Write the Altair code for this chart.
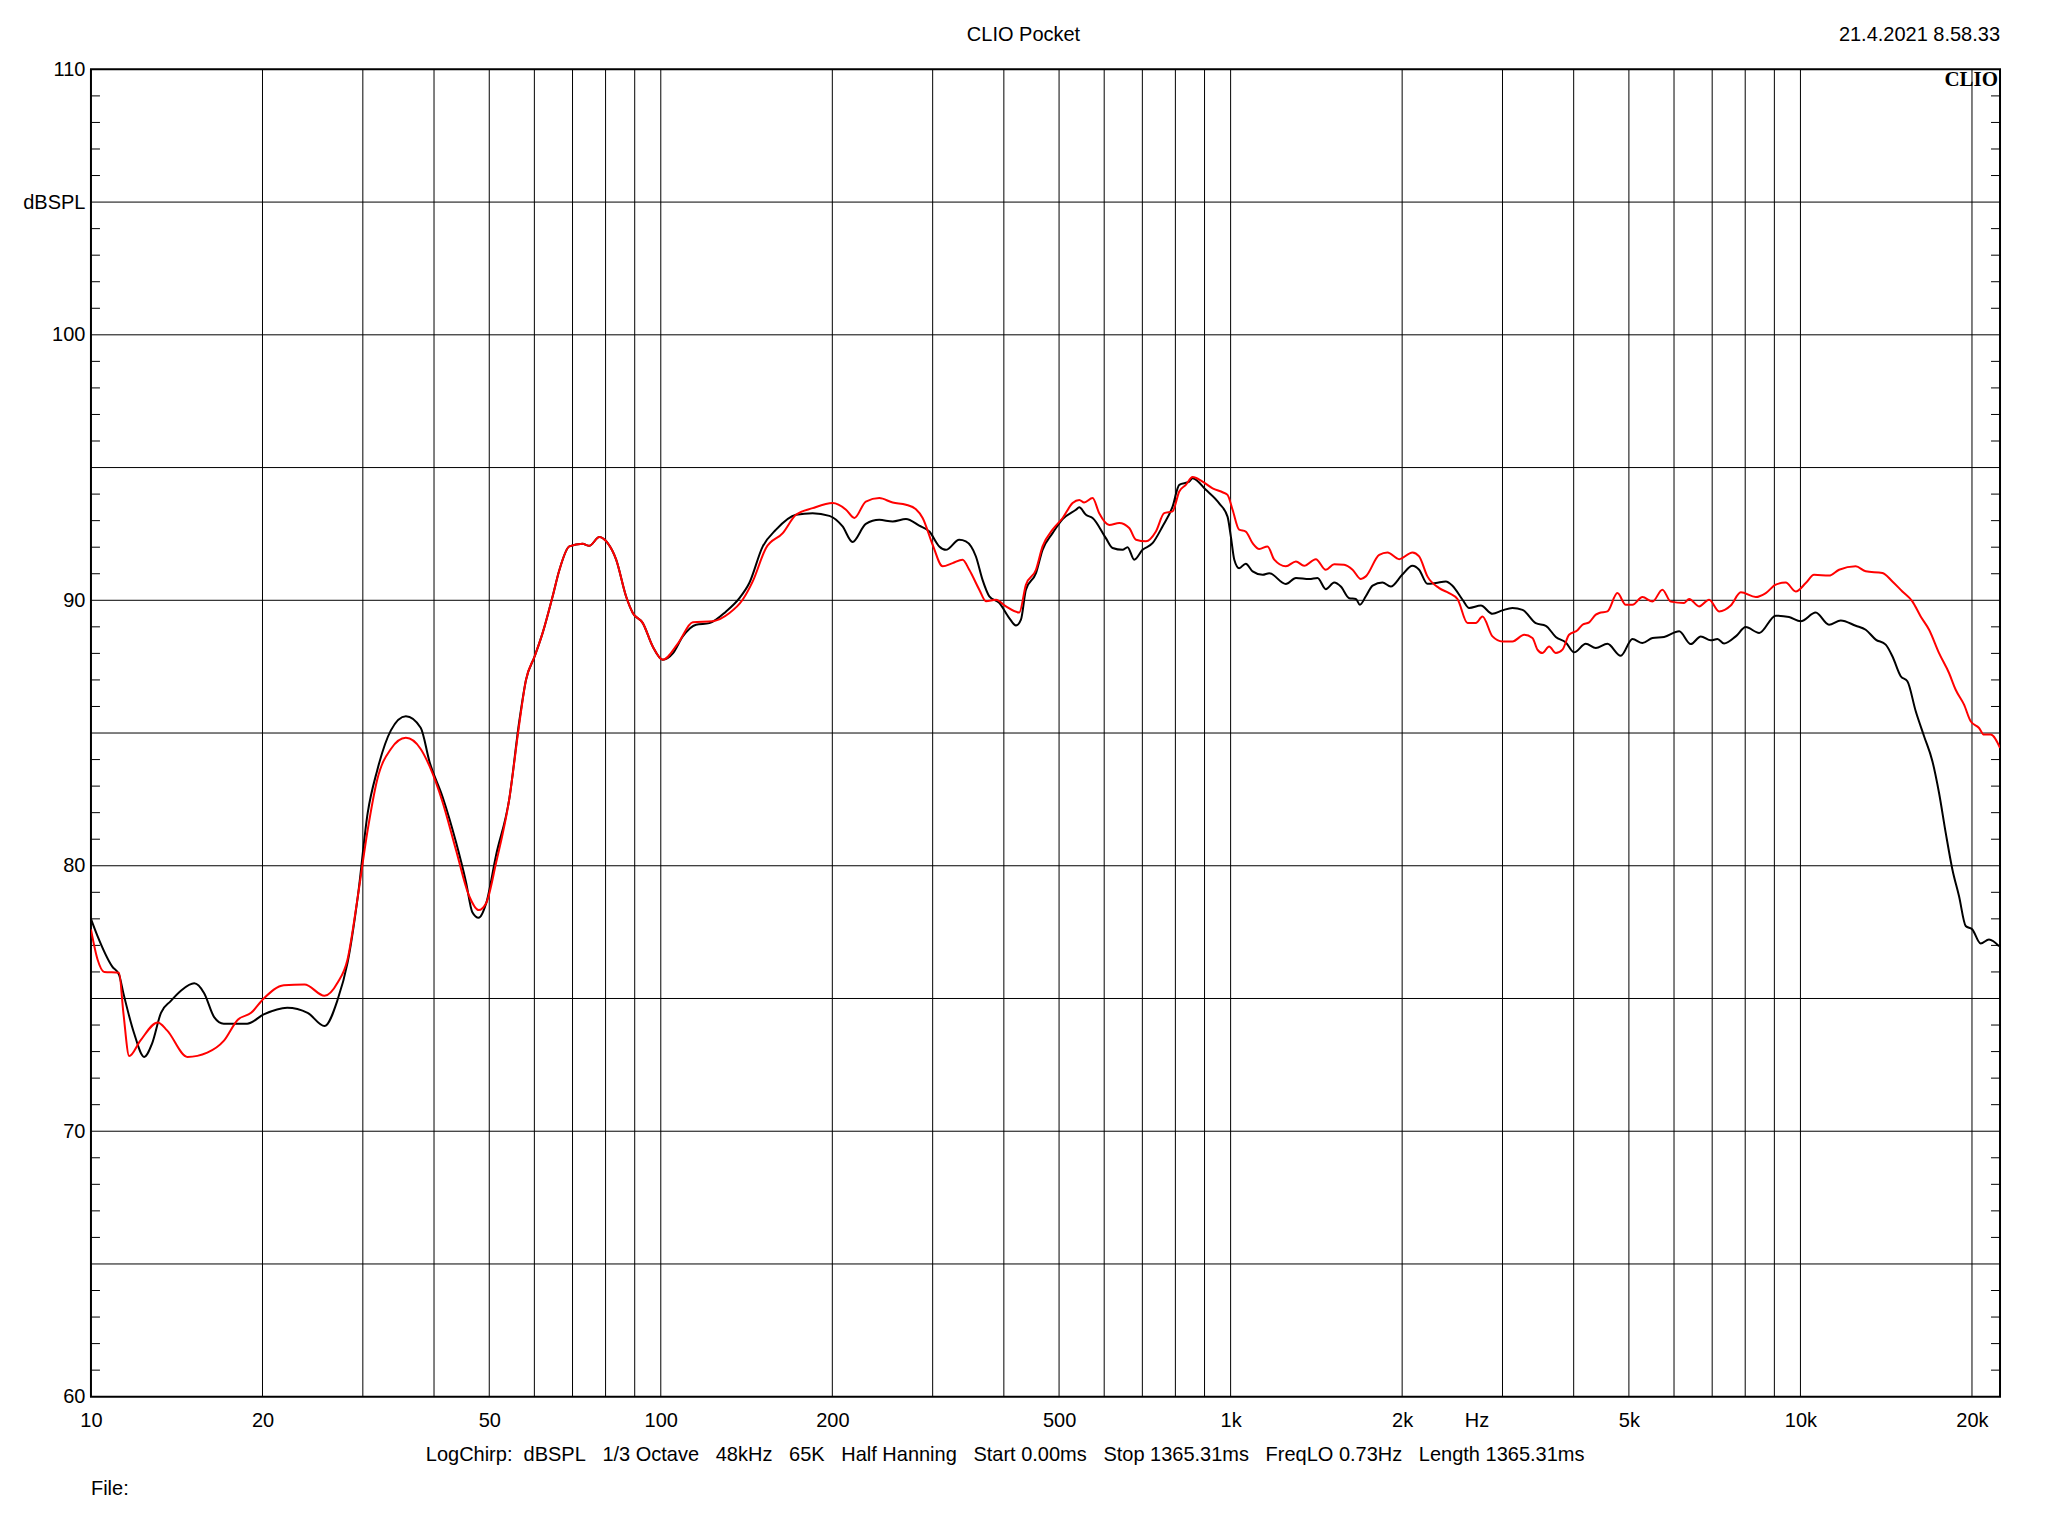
import altair as alt
import pandas as pd

# ---- data ----
black_freq = [10, 10.27, 10.9, 11.2, 11.4, 11.9, 12.4, 12.8, 13.27, 13.8, 14.4, 15.18, 15.8, 16.45, 17.1, 18.8,
              20.1, 22.1, 24.0, 25.7, 27.1, 28.2, 29.4, 30.6, 31.8, 33.6, 35.7, 37.9, 39.3, 41.4, 43.7, 45.5,
              46.7, 47.9, 49.4, 51.4, 54.2, 56.5, 58.0, 60.1, 62.1, 64.6, 66.4, 69.1, 72.9, 74.9, 78.0, 80.7,
              83.5, 86.9, 89.3, 93.0, 96.8, 100.8, 105, 109.3, 115.3, 121.7, 130.2, 137.4, 143, 151, 159.3,
              172.7, 184.7, 197.6, 208.5, 217, 229, 241.8, 255.3, 269.3, 284.2, 296, 308.1, 316.5, 334, 343,
              357.3, 367, 377.2, 392.6, 408.8, 420.1, 428.6, 437.3, 455.4, 467.7, 487, 507.3, 535.3, 542.6,
              557.3, 572.5, 604.1, 620.6, 646.3, 659.4, 677.4, 700.6, 729.4, 759.4, 791, 812.6, 846, 857.5,
              904.8, 955, 987.6, 1001, 1015, 1035, 1063, 1093, 1138, 1169, 1250, 1302, 1374, 1421, 1469, 1520,
              1561, 1615, 1659, 1686, 1727, 1775, 1847, 1910, 2000, 2085, 2142, 2215, 2292, 2386, 2451, 2553,
              2622, 2749, 2881, 2999, 3123, 3253, 3432, 3574, 3721, 3875, 4007, 4201, 4374, 4584, 4838, 5073,
              5281, 5500, 5764, 6126, 6420, 6686, 6961, 7151, 7345, 7700, 8017, 8464, 9051, 9550, 10012,
              10637, 11225, 11769, 12503, 13018, 13556, 14112, 14500, 14997, 15405, 15935, 16480, 17044,
              17509, 17987, 18478, 18982, 19500, 20030, 20715, 21423, 22311]
black_db = [78.0, 77.35, 76.2, 75.9, 75.2, 73.7, 72.8, 73.3, 74.46, 74.9, 75.3, 75.57, 75.2, 74.3, 74.05, 74.05,
            74.4, 74.65, 74.46, 73.96, 74.96, 76.34, 78.85, 82.0, 83.6, 85.1, 85.63, 85.2, 83.9, 82.6, 80.9, 79.4,
            78.25, 78.04, 78.6, 80.4, 82.5, 85.5, 87.0, 87.9, 88.8, 90.15, 91.15, 92.03, 92.13, 92.05, 92.38, 92.15,
            91.53, 90.15, 89.52, 89.14, 88.26, 87.76, 88.0, 88.64, 89.08, 89.14, 89.58, 90.08, 90.65, 92.03, 92.66,
            93.22, 93.28, 93.18, 92.78, 92.2, 92.88, 93.03, 92.97, 93.06, 92.81, 92.59, 92.03, 91.9, 92.28, 92.22,
            91.65, 90.77, 90.15, 89.9, 89.33, 89.05, 89.27, 90.4, 91.02, 91.9, 92.53, 93.06, 93.41, 93.5,
            93.22, 93.1, 92.34, 91.97, 91.9, 92.0, 91.53, 91.9, 92.15, 92.78, 93.53, 94.35, 94.47, 94.6,
            94.16, 93.65, 93.15, 92.4, 91.53, 91.21, 91.38, 91.09, 90.96, 91.02, 90.61, 90.84, 90.8, 90.84, 90.42, 90.67,
            90.52, 90.08, 90.05, 89.83, 90.15, 90.55, 90.67, 90.52, 90.96, 91.3, 91.15, 90.62, 90.65, 90.71, 90.55, 90.02,
            89.71, 89.8, 89.49, 89.62, 89.71, 89.64, 89.14, 89.04, 88.62, 88.41, 88.04, 88.36, 88.2, 88.36, 87.91, 88.54,
            88.39, 88.58, 88.62, 88.83, 88.35, 88.64, 88.49, 88.54, 88.37, 88.64, 88.99, 88.77, 89.42, 89.37, 89.21,
            89.54, 89.08, 89.24, 89.04, 88.89, 88.52, 88.33, 87.89, 87.14, 86.95, 85.82, 84.88, 83.94,
            82.74, 81.24, 79.86, 78.85, 77.73, 77.6, 77.07, 77.22, 76.97]

red_freq = [10, 10.27, 10.55, 11.2, 11.4, 11.67, 12.2, 13.1, 13.6, 14.77, 16.0, 17.1, 18.1, 19.1, 20.1, 21.8,
            23.7, 25.7, 27.1, 28.2, 29.4, 30.6, 31.8, 33.6, 35.7, 37.9, 39.3, 41.4, 43.7, 46.1, 47.9, 49.4,
            51.4, 54.2, 56.5, 58.0, 60.1, 62.1, 64.6, 66.4, 69.1, 72.9, 74.9, 78.0, 80.7, 83.5, 86.9, 89.3,
            93.0, 96.8, 100.8, 107.3, 113.8, 123.3, 132, 139.2, 145, 153, 163.7, 172.7, 184.7, 200.3, 211.4,
            218.6, 229, 241.8, 255.3, 269.3, 280.4, 288.1, 300, 312.3, 325.2, 338.5, 347.8, 362.2, 372.1,
            387.4, 403.4, 425.7, 437.3, 455.4, 467.7, 487, 507.3, 528.1, 542.6, 553.4, 572.5, 588, 612.4,
            637.6, 663.8, 682.2, 710.3, 739.4, 764.6, 791, 812.6, 834.6, 857.5, 892.6, 929.8, 970, 987.6,
            1008, 1035, 1063, 1093, 1123, 1161, 1193, 1250, 1302, 1346, 1411, 1469, 1520, 1582, 1637, 1693,
            1727, 1823, 1885, 1976, 2085, 2142, 2215, 2323, 2418, 2501, 2605, 2694, 2767, 2881, 2999, 3123,
            3275, 3386, 3455, 3525, 3622, 3721, 3823, 3926, 4062, 4145, 4258, 4374, 4434, 4584, 4773, 4937,
            5073, 5281, 5500, 5725, 5921, 6250, 6378, 6641, 6914, 7198, 7545, 7858, 8350, 8694, 9051, 9424,
            9811, 10217, 10565, 11225, 11690, 12503, 13018, 13924, 14500, 15097, 15718, 16257, 16818, 17509,
            18228, 18726, 19370, 19898, 20579, 20996, 21567, 22400]
red_db = [77.6, 76.47, 76.0, 75.97, 74.46, 72.83, 73.4, 74.1, 73.8, 72.8, 72.96, 73.4, 74.2, 74.46, 75.0, 75.5,
          75.53, 75.1, 75.6, 76.47, 78.85, 81.36, 83.25, 84.4, 84.82, 84.4, 83.74, 82.4, 80.6, 78.86, 78.33, 78.6,
          80.11, 82.5, 85.4, 87.0, 87.9, 88.8, 90.15, 91.15, 92.03, 92.13, 92.05, 92.38, 92.15, 91.53, 90.15, 89.52,
          89.14, 88.26, 87.76, 88.39, 89.17, 89.21, 89.52, 90.02, 90.71, 91.97, 92.53, 93.22, 93.47, 93.66, 93.41,
          93.1, 93.72, 93.85, 93.68, 93.6, 93.43, 93.1, 92.09, 91.28, 91.4, 91.53, 91.15, 90.4, 89.96,
          90.02, 89.77, 89.54, 90.58, 91.15, 92.03, 92.66, 93.1, 93.66, 93.78, 93.68, 93.85, 93.28, 92.84,
          92.91, 92.72, 92.28, 92.22, 92.59, 93.28, 93.35, 94.1, 94.35, 94.64, 94.47, 94.22, 94.06, 93.97,
          93.41, 92.66, 92.59, 92.15, 91.93, 92.03, 91.53, 91.28, 91.46, 91.3, 91.55, 91.15, 91.36, 91.34, 91.15, 90.8,
          90.9, 91.71, 91.8, 91.55, 91.8, 91.65, 90.9, 90.46, 90.27, 90.05, 89.14, 89.14, 89.39, 88.64, 88.45, 88.45,
          88.7, 88.58, 88.14, 88.01, 88.26, 88.01, 88.14, 88.7, 88.87, 89.08, 89.17, 89.46, 89.52, 89.58, 90.27, 89.83,
          89.83, 90.12, 89.95, 90.4, 89.95, 89.9, 90.05, 89.77, 90.02, 89.58, 89.8, 90.3, 90.12, 90.27, 90.59, 90.67,
          90.33, 90.65, 90.96, 90.93, 91.15, 91.28, 91.09, 91.03, 90.71, 90.33, 89.96, 89.39, 88.89, 88.01,
          87.26, 86.63, 86.07, 85.44, 85.19, 84.94, 84.94, 84.44]

grid_freqs = [20, 30, 40, 50, 60, 70, 80, 90, 100, 200, 300, 400, 500, 600, 700, 800, 900,
              1000, 2000, 3000, 4000, 5000, 6000, 7000, 8000, 9000, 10000, 20000]
grid_db = [65, 70, 75, 80, 85, 90, 95, 100, 105]
minor_db = [v for v in range(61, 110) if v % 5 != 0]

x_tick_values = [10, 20, 50, 100, 200, 500, 1000, 2000, 2700, 5000, 10000, 20000]
x_tick_labels = ["10", "20", "50", "100", "200", "500", "1k", "2k", "Hz", "5k", "10k", "20k"]
y_tick_values = [60, 70, 80, 90, 100, 105, 110]

title_text = "CLIO Pocket"
date_text = "21.4.2021 8.58.33"
brand_text = "CLIO"
file_text = "File:"
nb = "\u00a0"
info_items = ["LogChirp:", "dBSPL", "1/3 Octave", "48kHz", "65K", "Half Hanning",
              "Start 0.00ms", "Stop 1365.31ms", "FreqLO 0.73Hz", "Length 1365.31ms"]
info_text = info_items[0] + nb * 2 + (nb * 3).join(info_items[1:])

W, H = 1910, 1328
FONT = "Liberation Sans"

xscale = alt.Scale(type="log", domain=[10, 22400], nice=False)
yscale = alt.Scale(domain=[60, 110], nice=False, zero=False)

# label expression for the x axis built from the tick lists
x_expr = " : ".join(f"datum.value == {v} ? '{l}'" for v, l in zip(x_tick_values, x_tick_labels)) + " : ''"

x_axis = alt.Axis(values=x_tick_values, labelExpr=x_expr, title=None,
                  grid=False, ticks=False, tickSize=0, domain=False, labelPadding=14,
                  labelFlush=False, labelOverlap=False, labelFont=FONT, labelFontSize=20,
                  labelColor="black")
y_axis = alt.Axis(values=y_tick_values, title=None,
                  labelExpr="datum.value == 105 ? 'dBSPL' : datum.label",
                  grid=False, ticks=False, tickSize=0, domain=False, labelPadding=6,
                  labelFlush=False, labelOverlap=False, labelFont=FONT, labelFontSize=20,
                  labelColor="black")


def X():
    return alt.X("f:Q", scale=xscale, axis=x_axis)


def Y():
    return alt.Y("db:Q", scale=yscale, axis=y_axis)


curves_black = pd.DataFrame({"f": black_freq, "db": black_db})
curves_red = pd.DataFrame({"f": red_freq, "db": red_db})

hgrid = alt.Chart(pd.DataFrame({"db": grid_db})).mark_rule(color="black", strokeWidth=1).encode(y=Y())
vgrid = alt.Chart(pd.DataFrame({"f": grid_freqs})).mark_rule(color="black", strokeWidth=1).encode(x=X())
ticks_l = alt.Chart(pd.DataFrame({"db": minor_db})).mark_rule(color="black", strokeWidth=1).encode(
    y=Y(), x=alt.value(0), x2=alt.value(9))
ticks_r = alt.Chart(pd.DataFrame({"db": minor_db})).mark_rule(color="black", strokeWidth=1).encode(
    y=Y(), x=alt.value(W - 9), x2=alt.value(W))

black_line = alt.Chart(curves_black).mark_line(
    color="black", strokeWidth=2, interpolate="monotone", clip=True).encode(x=X(), y=Y())
red_line = alt.Chart(curves_red).mark_line(
    color="#ff0000", strokeWidth=2, interpolate="monotone", clip=True).encode(x=X(), y=Y())


def label(text, x, y, align="left", baseline="middle", font=FONT, size=20, weight="normal"):
    return alt.Chart(pd.DataFrame({"t": [text]})).mark_text(
        align=align, baseline=baseline, font=font, fontSize=size, fontWeight=weight, color="black"
    ).encode(text="t:N", x=alt.value(x), y=alt.value(y))


texts = [
    label(title_text, 933, -34, align="center"),
    label(date_text, W, -34, align="right"),
    label(brand_text, W - 2, 17, align="right", baseline="alphabetic", font="Liberation Serif",
          size=21, weight="bold"),
    label(info_text, 335, 1386),
    label(file_text, 0, 1420),
]

chart = alt.layer(hgrid, vgrid, ticks_l, ticks_r, black_line, red_line, *texts).properties(
    width=W, height=H, autosize="none", background="white",
    padding={"left": 83, "top": 61, "right": 40, "bottom": 140},
).configure_view(stroke="black", strokeWidth=2)

chart.save("out.html", embed_options={"renderer": "svg", "actions": False})
